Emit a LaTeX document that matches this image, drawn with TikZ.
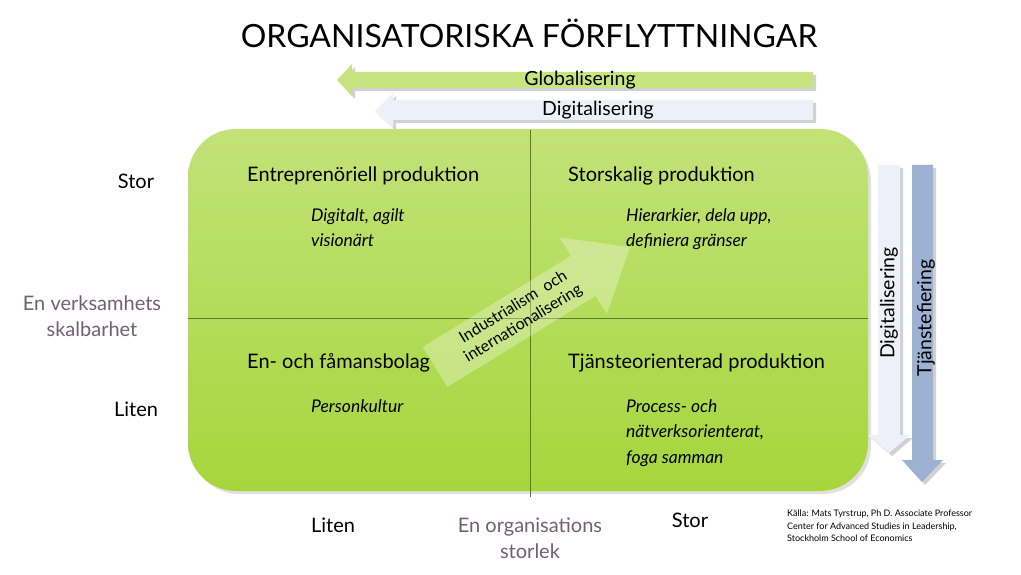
\documentclass[tikz,border=0pt]{standalone}
\usepackage{fontspec}
\setmainfont{Lato}
\usetikzlibrary{calc}
\definecolor{boxtop}{HTML}{C2E278}
\definecolor{boxbot}{HTML}{A6D63C}
\definecolor{gline}{HTML}{5E7A2A}
\definecolor{glob}{HTML}{C8E47F}
\definecolor{digi}{HTML}{EDF0F8}
\definecolor{tjan}{HTML}{9DB2D3}
\definecolor{axisgray}{HTML}{6F6270}
\tikzset{
  qtitle/.style={anchor=west, font=\fontsize{20}{22}\selectfont, inner sep=0pt},
  qsub/.style={anchor=north west, font=\fontsize{17.5}{25.5}\selectfont\itshape, align=left, inner sep=0pt},
  axlab/.style={font=\fontsize{20}{22}\selectfont, inner sep=0pt},
  axname/.style={font=\fontsize{20}{26}\selectfont, text=axisgray, align=center, inner sep=0pt},
  arrtext/.style={font=\fontsize{19.5}{22}\selectfont, inner sep=0pt},
  shadowfill/.style={fill=black, fill opacity=0.18},
}
\begin{document}
\begin{tikzpicture}[x=1pt,y=-1pt]
\useasboundingbox (0,0) rectangle (1021,575);
\fill[white] (0,0) rectangle (1021,575);

% title
\node[font=\fontsize{32}{34}\selectfont, inner sep=0pt] (title) at (529,33) {ORGANISATORISKA FÖRFLYTTNINGAR};

% top arrows
\fill[shadowfill] (816,75) -- (355,75) -- (355,67) -- (340,83) -- (355,99) -- (355,91) -- (816,91) -- cycle;
\fill[glob] (813,72) -- (352,72) -- (352,64) -- (337,80) -- (352,96) -- (352,88) -- (813,88) -- cycle;
\node[arrtext] (glob) at (580,80) {Globalisering};

\fill[shadowfill] (816,103) -- (396,103) -- (396,96) -- (378,114) -- (396,131) -- (396,123) -- (816,123) -- cycle;
\fill[digi] (813,100) -- (393,100) -- (393,93) -- (375,111) -- (393,128) -- (393,120) -- (813,120) -- cycle;
\node[arrtext] (digh) at (598,110) {Digitalisering};

% green box
\fill[black, opacity=0.12, rounded corners=48pt] (191,133) rectangle (871,494);
\shade[top color=boxtop, bottom color=boxbot, rounded corners=48pt] (188,129) rectangle (868,491);
\draw[gline, line width=0.7pt] (530,130) -- (530,497);
\draw[gline, line width=0.7pt] (188,318) -- (868,318);

% diagonal arrow
\begin{scope}[shift={(435,367)}, rotate=31.6]
  \fill[white, fill opacity=0.3] (0,-23.5) -- (174,-23.5) -- (174,-45) -- (229,0) -- (174,45) -- (174,23.5) -- (0,23.5) -- cycle;
  \node[font=\fontsize{16}{19}\selectfont, align=center, inner sep=0pt, rotate=31.6] (ind) at (98,0) {Industrialism\ \ och\\internationalisering};
\end{scope}

% quadrant texts
\node[qtitle] (q1) at (247,176) {Entreprenöriell produktion};
\node[qsub] (q1s) at (311,208) {Digitalt, agilt\\visionärt};
\node[qtitle] (q2) at (568,176) {Storskalig produktion};
\node[qsub] (q2s) at (626,208) {Hierarkier, dela upp,\\definiera gränser};
\node[qtitle] (q3) at (247,363) {En- och fåmansbolag};
\node[qsub] (q3s) at (311,399) {Personkultur};
\node[qtitle] (q4) at (568,363) {Tjänsteorienterad produktion};
\node[qsub] (q4s) at (626,399) {Process- och\\nätverksorienterat,\\foga samman};

% right vertical arrows
\fill[shadowfill] (881,168) -- (903,168) -- (903,438) -- (913,438) -- (892,456) -- (871,438) -- (881,438) -- cycle;
\fill[digi] (878,165) -- (900,165) -- (900,435) -- (910,435) -- (889,453) -- (868,435) -- (878,435) -- cycle;
\fill[shadowfill] (915,168) -- (936,168) -- (936,463) -- (946,463) -- (925,485) -- (905,463) -- (915,463) -- cycle;
\fill[tjan] (912,165) -- (933,165) -- (933,460) -- (943,460) -- (922,482) -- (902,460) -- (912,460) -- cycle;
\node[arrtext, rotate=90] (digv) at (889,303) {Digitalisering};
\node[arrtext, rotate=90] (tjv) at (926,318) {Tjänstefiering};

% axis labels
\node[axlab] (ystor) at (136,181) {Stor};
\node[axlab] (yliten) at (136,409) {Liten};
\node[axname] (yname) at (92,316) {En verksamhets\\skalbarhet};
\node[axlab] (xliten) at (333,525) {Liten};
\node[axlab] (xstor) at (690,520) {Stor};
\node[axname] (xname) at (530,538) {En organisations\\storlek};

% source
\node[anchor=north west, font=\fontsize{9}{12.5}\selectfont, align=left, inner sep=0pt] (src) at (787,510) {Källa: Mats Tyrstrup, Ph D. Associate Professor\\Center for Advanced Studies in Leadership,\\Stockholm School of Economics};
\end{tikzpicture}
\end{document}
